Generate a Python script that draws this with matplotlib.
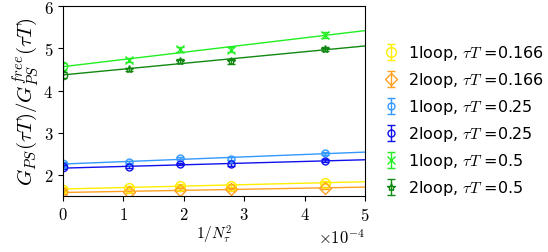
import numpy as np
import matplotlib
matplotlib.use("Agg")
import matplotlib.pyplot as plt

plt.rcParams['font.family'] = 'cmr10'
plt.rcParams['mathtext.fontset'] = 'cm'
plt.rcParams['axes.unicode_minus'] = False
plt.rcParams['axes.formatter.use_mathtext'] = True

# 1/N_tau^2 for N_tau = 96, 72, 60, 48
inv_n2 = [1.085e-4, 1.929e-4, 2.778e-4, 4.340e-4]

labels = [r'1loop, $\tau T$ =0.166', r'2loop, $\tau T$ =0.166',
          r'1loop, $\tau T$ =0.25', r'2loop, $\tau T$ =0.25',
          r'1loop, $\tau T$ =0.5', r'2loop, $\tau T$ =0.5']
colors = ['#ffee00', '#ffa020', '#3399ff', '#1010ee', '#22ee22', '#118811']
markers = ['o', 'D', 'o', 'o', 'x', '*']
msizes = [7, 6, 5, 5, 6, 6]

# lattice values at the four N_tau
values = [
    [1.70, 1.75, 1.75, 1.82],
    [1.60, 1.65, 1.66, 1.69],
    [2.31, 2.40, 2.39, 2.51],
    [2.20, 2.26, 2.25, 2.34],
    [4.72, 4.98, 4.97, 5.32],
    [4.50, 4.70, 4.69, 4.98],
]
errors = [
    [0.03, 0.03, 0.03, 0.04],
    [0.03, 0.03, 0.03, 0.03],
    [0.03, 0.03, 0.03, 0.04],
    [0.03, 0.03, 0.03, 0.03],
    [0.05, 0.06, 0.05, 0.07],
    [0.04, 0.05, 0.05, 0.05],
]
# continuum extrapolations (x = 0)
cont_values = [1.67, 1.59, 2.26, 2.18, 4.57, 4.37]
cont_errors = [0.05, 0.05, 0.05, 0.05, 0.08, 0.07]

fig = plt.figure(figsize=(5.48, 2.53), dpi=100)
ax = fig.add_axes([0.115, 0.221, 0.551, 0.751])

xfit = np.linspace(0, 5e-4, 50)
for i in range(len(labels)):
    c = colors[i]
    coef = np.polyfit(inv_n2, values[i], 1)
    ax.plot(xfit, np.polyval(coef, xfit), color=c, lw=1)
    ax.errorbar(inv_n2, values[i], yerr=errors[i], fmt=markers[i], color=c,
                mfc='none', ms=msizes[i], capsize=3, elinewidth=1, label=labels[i])
    ax.errorbar([0], [cont_values[i]], yerr=[cont_errors[i]], fmt='o', color=c,
                mfc='none', ms=6, capsize=3, elinewidth=1)

ax.set_xlim(0, 5e-4)
ax.set_ylim(1.5, 6)
ax.set_xticks([0, 1e-4, 2e-4, 3e-4, 4e-4, 5e-4])
ax.set_yticks([2, 3, 4, 5, 6])
ax.tick_params(direction='out', labelsize=12)
ax.ticklabel_format(axis='x', style='sci', scilimits=(0, 0))
ax.xaxis.get_offset_text().set_fontsize(12)
ax.set_xlabel(r'$1/N_\tau^2$', fontsize=11, labelpad=0)
ax.set_ylabel(r'$G_{PS}(\tau T)/G_{PS}^{free}(\tau T)$', fontsize=15, labelpad=2)

ax.legend(loc='upper left', bbox_to_anchor=(0.69, 0.85), bbox_transform=fig.transFigure,
          frameon=False, prop={'family': 'DejaVu Sans', 'size': 11.5},
          handlelength=0.8, handletextpad=0.7, labelspacing=0.5, borderaxespad=0)

fig.savefig('out.png', dpi=100)
